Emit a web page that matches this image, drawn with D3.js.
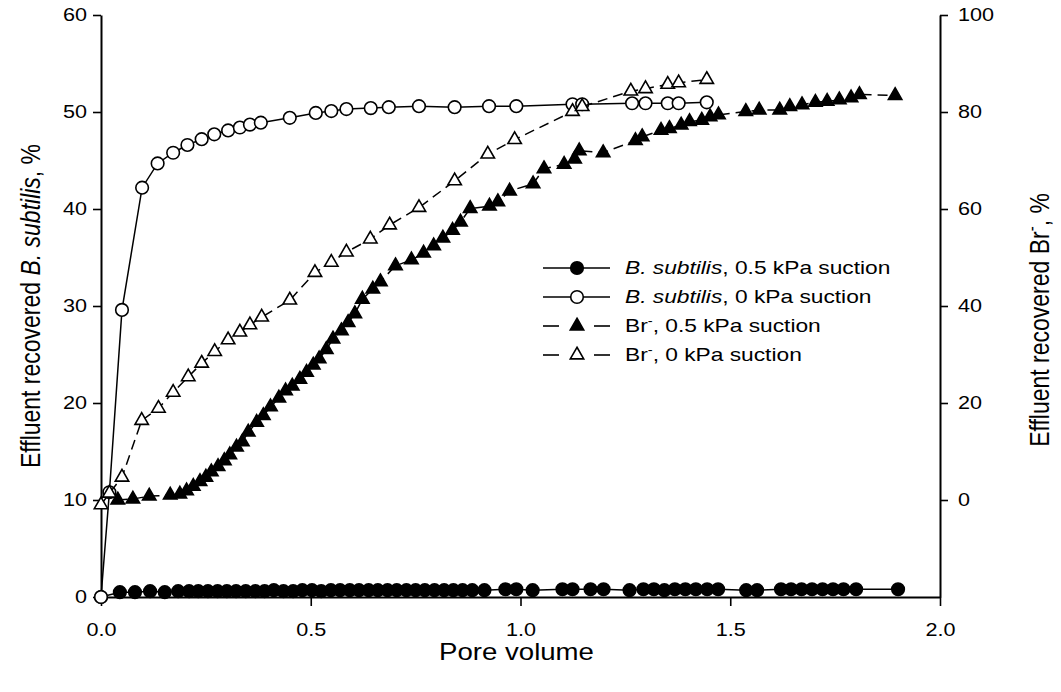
<!DOCTYPE html>
<html>
<head>
<meta charset="utf-8">
<script src="https://cdn.jsdelivr.net/npm/d3@7"></script>
<style>
  body { margin: 0; background: #fff; }
  svg { font-family: "Liberation Sans", Arial, sans-serif; }
</style>
</head>
<body>
<svg></svg>
<script>
// pore volume vs recovered %
const bsHalfSuction = [ // B. subtilis, 0.5 kPa (left axis)
  [0, 0], [0.045, 0.5], [0.081, 0.5], [0.117, 0.6], [0.152, 0.5], [0.184, 0.6], [0.21, 0.6],
  [0.232, 0.6], [0.255, 0.6], [0.278, 0.6], [0.3, 0.6], [0.322, 0.6], [0.345, 0.6], [0.368, 0.6],
  [0.39, 0.6], [0.412, 0.7], [0.435, 0.6], [0.458, 0.6], [0.48, 0.7], [0.503, 0.7], [0.525, 0.6],
  [0.548, 0.7], [0.57, 0.7], [0.593, 0.7], [0.615, 0.7], [0.638, 0.7], [0.66, 0.7], [0.683, 0.7],
  [0.705, 0.7], [0.728, 0.7], [0.75, 0.7], [0.772, 0.7], [0.795, 0.7], [0.818, 0.7], [0.84, 0.7],
  [0.862, 0.7], [0.885, 0.7], [0.914, 0.7], [0.964, 0.8], [0.99, 0.8], [1.029, 0.7], [1.1, 0.8],
  [1.124, 0.8], [1.167, 0.8], [1.198, 0.8], [1.26, 0.7], [1.293, 0.8], [1.318, 0.8], [1.343, 0.7],
  [1.368, 0.8], [1.393, 0.8], [1.418, 0.8], [1.445, 0.8], [1.471, 0.8], [1.538, 0.7], [1.564, 0.7],
  [1.621, 0.8], [1.645, 0.8], [1.67, 0.8], [1.695, 0.8], [1.72, 0.8], [1.745, 0.8], [1.77, 0.8],
  [1.8, 0.8], [1.9, 0.8]
];
const bsZeroSuction = [ // B. subtilis, 0 kPa (left axis)
  [0, 0], [0.02, 10.8], [0.05, 29.6], [0.098, 42.2], [0.135, 44.7], [0.172, 45.8], [0.206, 46.6],
  [0.24, 47.2], [0.27, 47.7], [0.303, 48.1], [0.331, 48.4], [0.355, 48.7], [0.381, 48.9],
  [0.45, 49.4], [0.512, 49.9], [0.549, 50.1], [0.585, 50.3], [0.643, 50.4], [0.686, 50.5],
  [0.758, 50.6], [0.843, 50.5], [0.925, 50.6], [0.99, 50.6], [1.124, 50.8], [1.147, 50.8],
  [1.266, 50.9], [1.298, 50.9], [1.351, 50.9], [1.377, 50.9], [1.444, 51.0]
];
const brHalfSuction = [ // Br-, 0.5 kPa (right axis)
  [0.04, 0], [0.076, 0.2], [0.115, 0.8], [0.165, 1.0], [0.188, 1.2], [0.204, 1.9], [0.22, 2.8],
  [0.236, 3.8], [0.25, 4.7], [0.263, 5.8], [0.279, 6.9], [0.294, 8.1], [0.307, 9.3], [0.323, 10.9],
  [0.337, 12.0], [0.351, 14.0], [0.371, 16.0], [0.387, 17.4], [0.404, 19.2], [0.424, 21.0],
  [0.44, 22.5], [0.456, 23.5], [0.474, 24.9], [0.49, 26.3], [0.506, 27.8], [0.52, 29.1],
  [0.537, 31.0], [0.553, 33.2], [0.573, 34.9], [0.589, 36.6], [0.605, 38.4], [0.623, 41.4],
  [0.648, 43.5], [0.666, 45.0], [0.702, 48.3], [0.74, 49.5], [0.769, 50.9], [0.793, 52.4],
  [0.815, 54.0], [0.838, 55.6], [0.857, 57.3], [0.88, 60.1], [0.926, 60.6], [0.946, 61.5],
  [0.974, 63.7], [1.03, 65.2], [1.056, 68.3], [1.104, 69.2], [1.129, 70.3], [1.14, 72.0],
  [1.197, 71.6], [1.274, 74.1], [1.29, 74.9], [1.335, 76.2], [1.355, 76.6], [1.383, 77.3],
  [1.403, 78.0], [1.432, 78.3], [1.452, 79.0], [1.472, 79.4], [1.537, 80.1], [1.569, 80.4],
  [1.618, 80.4], [1.642, 81.1], [1.671, 81.5], [1.703, 82.0], [1.731, 82.2], [1.76, 82.5],
  [1.788, 82.9], [1.808, 83.6], [1.893, 83.4]
];
const brZeroSuction = [ // Br-, 0 kPa (right axis)
  [0, -1], [0.02, 1.4], [0.05, 4.7], [0.097, 16.4], [0.137, 18.9], [0.172, 22.2], [0.208, 25.4],
  [0.24, 28.2], [0.271, 30.6], [0.303, 33.0], [0.331, 34.6], [0.355, 36.1], [0.383, 37.7],
  [0.45, 41.2], [0.51, 46.9], [0.549, 49.0], [0.585, 51.1], [0.642, 53.8], [0.688, 56.7],
  [0.758, 60.3], [0.843, 65.8], [0.922, 71.3], [0.986, 74.3], [1.124, 80.1], [1.147, 81.1],
  [1.263, 84.3], [1.298, 84.8], [1.351, 85.7], [1.377, 86.0], [1.444, 86.7]
];

const xTicks = [0, 0.5, 1.0, 1.5, 2.0];
const leftTicks = [0, 10, 20, 30, 40, 50, 60];
const rightTicks = [0, 20, 40, 60, 80, 100];

const W = 1061, H = 692;
const plotLeft = 101, plotRight = 940, plotTop = 15, plotBottom = 597;
const stretch = 1.2; // the source figure's lettering is a bit wide

const svg = d3.select("svg").attr("width", W).attr("height", H);

const x = d3.scaleLinear().domain([0, 2]).range([plotLeft, plotRight]);
const yL = d3.scaleLinear().domain([0, 60]).range([plotBottom, plotTop]);
const yR = d3.scaleLinear().domain([-20, 100]).range([plotBottom, plotTop]);

// axes
function styleAxis(g) {
  g.select(".domain").attr("stroke", "#000").attr("stroke-width", 2);
  g.selectAll(".tick line").attr("stroke", "#000").attr("stroke-width", 1.6);
  g.selectAll(".tick text").attr("fill", "#000").attr("font-size", 18)
    .attr("font-family", "Liberation Sans, Arial, sans-serif")
    .each(function () {
      const t = d3.select(this);
      const tx = +t.attr("x") || 0;
      t.attr("x", tx / stretch).attr("transform", `scale(${stretch},1)`);
    });
}

svg.append("g")
  .attr("transform", `translate(${plotLeft},0)`)
  .call(d3.axisLeft(yL).tickValues(leftTicks).tickSize(8).tickSizeOuter(0).tickPadding(6)
    .tickFormat(d3.format("d")))
  .call(styleAxis);

svg.append("g")
  .attr("transform", `translate(${plotRight},0)`)
  .call(d3.axisRight(yR).tickValues(rightTicks).tickSize(8).tickSizeOuter(0).tickPadding(10)
    .tickFormat(d3.format("d")))
  .call(styleAxis);

svg.append("g")
  .attr("transform", `translate(0,${plotBottom})`)
  .call(d3.axisBottom(x).tickValues(xTicks).tickSize(9).tickSizeOuter(0).tickPadding(17)
    .tickFormat(d3.format(".1f")))
  .call(styleAxis);

// axis titles
svg.append("text")
  .attr("transform", `translate(${(plotLeft + plotRight) / 2 - 4},660) scale(${stretch},1)`)
  .attr("text-anchor", "middle").attr("font-size", 23)
  .text("Pore volume");

const lt = svg.append("text")
  .attr("transform", `translate(40,${(plotTop + plotBottom) / 2}) scale(${stretch},1) rotate(-90)`)
  .attr("text-anchor", "middle").attr("font-size", 23);
lt.append("tspan").text("Effluent recovered ");
lt.append("tspan").attr("font-style", "italic").text("B. subtilis");
lt.append("tspan").text(", %");

const rt = svg.append("text")
  .attr("transform", `translate(1049,${(plotTop + plotBottom) / 2 + 14}) scale(${stretch},1) rotate(-90)`)
  .attr("text-anchor", "middle").attr("font-size", 23);
rt.append("tspan").text("Effluent recovered Br");
rt.append("tspan").attr("font-size", 15).attr("dy", -9).text("-");
rt.append("tspan").attr("dy", 9).text(", %");

// series
const series = [
  { data: bsHalfSuction, y: yL, shape: "circle", fill: "#000", dash: null },
  { data: bsZeroSuction, y: yL, shape: "circle", fill: "#fff", dash: null },
  { data: brHalfSuction, y: yR, shape: "triangle", fill: "#000", dash: "10,6" },
  { data: brZeroSuction, y: yR, shape: "triangle", fill: "#fff", dash: "10,6" }
];

const circleSym = d3.symbol().type(d3.symbolCircle).size(Math.PI * 6.3 * 6.3);
const triSym = d3.symbol().type(d3.symbolTriangle).size(78);

series.forEach(s => {
  const line = d3.line().x(d => x(d[0])).y(d => s.y(d[1]));
  svg.append("path")
    .attr("d", line(s.data))
    .attr("fill", "none").attr("stroke", "#000").attr("stroke-width", 1.5)
    .attr("stroke-dasharray", s.dash);
  svg.append("g").selectAll("path")
    .data(s.data)
    .join("path")
    .attr("transform", d => `translate(${x(d[0])},${s.y(d[1])})`)
    .attr("d", s.shape === "circle" ? circleSym() : triSym())
    .attr("fill", s.fill).attr("stroke", "#000").attr("stroke-width", 1.6);
});

// legend
const legendRows = [
  { italic: "B. subtilis", rest: ", 0.5 kPa suction", shape: "circle", fill: "#000", dash: null },
  { italic: "B. subtilis", rest: ", 0 kPa suction", shape: "circle", fill: "#fff", dash: null },
  { br: true, rest: ", 0.5 kPa suction", shape: "triangle", fill: "#000", dash: "dash" },
  { br: true, rest: ", 0 kPa suction", shape: "triangle", fill: "#fff", dash: "dash" }
];
const legend = svg.append("g");
legendRows.forEach((r, i) => {
  const ly = 268 + i * 29;
  const g = legend.append("g").attr("transform", `translate(0,${ly})`);
  if (r.dash) {
    g.append("line").attr("x1", 543).attr("x2", 559).attr("y1", 0).attr("y2", 0)
      .attr("stroke", "#000").attr("stroke-width", 1.6);
    g.append("line").attr("x1", 594).attr("x2", 610).attr("y1", 0).attr("y2", 0)
      .attr("stroke", "#000").attr("stroke-width", 1.6);
  } else {
    g.append("line").attr("x1", 543).attr("x2", 610).attr("y1", 0).attr("y2", 0)
      .attr("stroke", "#000").attr("stroke-width", 1.6);
  }
  g.append("path")
    .attr("transform", "translate(577,0)")
    .attr("d", r.shape === "circle" ? circleSym() : triSym())
    .attr("fill", r.fill).attr("stroke", "#000").attr("stroke-width", 1.6);
  const t = g.append("text")
    .attr("transform", `translate(625,6) scale(1.23,1)`)
    .attr("font-size", 18.5);
  if (r.italic) {
    t.append("tspan").attr("font-style", "italic").text(r.italic);
    t.append("tspan").text(r.rest);
  } else {
    t.append("tspan").text("Br");
    t.append("tspan").attr("font-size", 12).attr("dy", -7).text("-");
    t.append("tspan").attr("dy", 7).text(r.rest);
  }
});
</script>
</body>
</html>
